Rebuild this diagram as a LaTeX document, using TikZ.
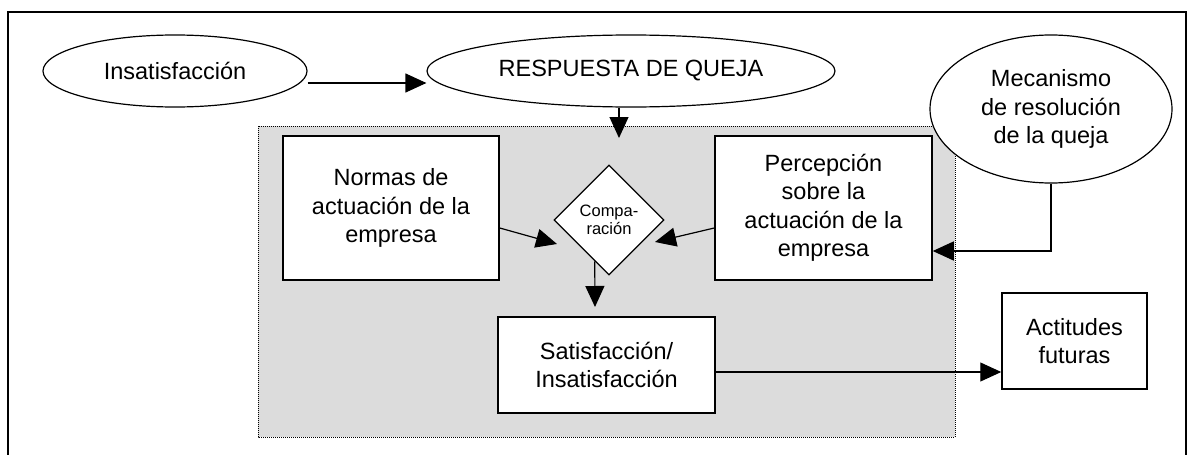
\documentclass[tikz,border=0pt]{standalone}
\usepackage{fontspec}
\setmainfont{Liberation Sans}
\usetikzlibrary{shapes.geometric,arrows.meta}
\begin{document}
\begin{tikzpicture}[x=1pt,y=-1pt,
		txt/.style={font=\fontsize{23.5}{28.5}\selectfont,align=center},
		elip/.style={txt,ellipse,draw,line width=1.2pt,fill=white,inner sep=0pt},
		caja/.style={txt,rectangle,draw,line width=1.5pt,fill=white,inner sep=0pt},
		flecha/.style={line width=1.2pt,-{Triangle[length=21pt,width=19pt]}}]
		\definecolor{gris1}{HTML}{DCDCDC}
		\path[use as bounding box,fill=white] (0,0) rectangle (1192,455);
		\draw[line width=1.2pt] (8,455) -- (8,12) -- (1186,12) -- (1186,455);
		\draw[fill=gris1,line width=1pt,dash pattern=on 1pt off 1pt] (258,126) rectangle (955,437);
		\node[elip,minimum width=264pt,minimum height=72pt] (insat) at (175,71) {Insatisfacción};
		\node[elip,minimum width=408pt,minimum height=72pt] (resp) at (631,71) {RESPUESTA DE QUEJA};
		\node[elip,minimum width=242pt,minimum height=148pt] (mec) at (1051,109) {Mecanismo\\de resolución\\de la queja};
		\node[caja,minimum width=216pt,minimum height=144pt] (normas) at (391,208) {Normas de\\actuación de la\\empresa};
		\node[caja,minimum width=217pt,minimum height=144pt] (perc) at (823.5,208) {Percepción\\sobre la\\actuación de la\\empresa};
		\node[diamond,draw,fill=white,line width=1.2pt,minimum width=110pt,minimum height=110pt,inner sep=0pt,
			font=\fontsize{16.5}{18}\selectfont,align=center] (comp) at (609,220) {Compa-\\ración};
		\node[caja,minimum width=217pt,minimum height=96pt] (satis) at (606.5,365) {Satisfacción/\\Insatisfacción};
		\node[caja,minimum width=145pt,minimum height=96pt] (act) at (1074.5,341) {Actitudes\\futuras};
		\coordinate (rin) at (619,138);
		\coordinate (cl) at (557,244);
		\coordinate (cr) at (655,242);
		\coordinate (cd) at (595,307);
		\coordinate (sa) at ([yshift=-7pt]satis.east);
		\draw[flecha] ([yshift=-12pt]insat.east) -- ([yshift=-12pt]resp.west);
		\draw[flecha] ([xshift=-12pt]resp.south) -- (rin);
		\draw[flecha] ([yshift=-20pt]normas.east) -- (cl);
		\draw[flecha] ([yshift=-20pt]perc.west) -- (cr);
		\draw[flecha] (comp.-109) -- (cd);
		\draw[flecha] (sa) -- (sa -| act.west);
		\draw[flecha] (mec.south) |- ([yshift=-43pt]perc.east);
	\end{tikzpicture}
\end{document}
